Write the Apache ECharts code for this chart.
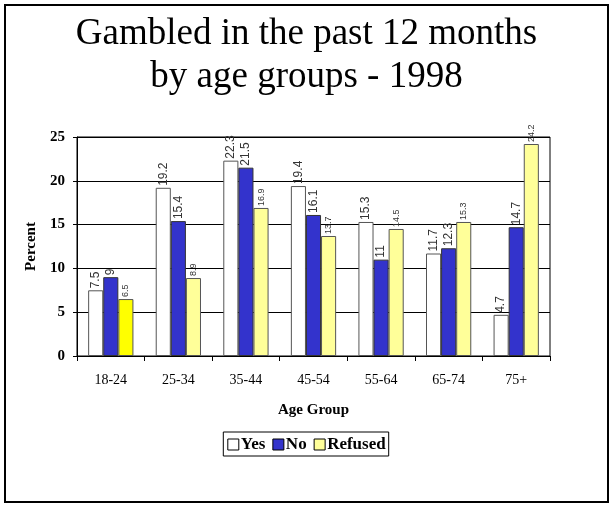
<!DOCTYPE html>
<html><head><meta charset="utf-8">
<script src="https://cdn.jsdelivr.net/npm/echarts@6/dist/echarts.min.js"></script>
<style>html,body{margin:0;padding:0;background:#fff}#c{width:613px;height:506px}</style>
</head><body><div id="c"></div>
<script>
var categories = ['18-24','25-34','35-44','45-54','55-64','65-74','75+'];
var yesValues = [7.5, 19.2, 22.3, 19.4, 15.3, 11.7, 4.7];
var noValues = [9, 15.4, 21.5, 16.1, 11, 12.3, 14.7];
var refusedValues = [6.5, 8.9, 16.9, 13.7, 14.5, 15.3, 24.2];
var seriesNames = ['Yes','No','Refused'];
var titleLines = ['Gambled in the past 12 months','by age groups - 1998'];

var serif = '"Liberation Serif","Times New Roman",serif';
var chart = echarts.init(document.getElementById('c'));
function lbl(size){
  return {show:true, position:'top', rotate:90, align:'left', verticalAlign:'middle', distance:2,
    fontFamily:'"Liberation Sans",Arial,sans-serif', fontSize:size, color:'#333'};
}
var refusedData = refusedValues.map(function(v,i){
  return i===0 ? {value:v, itemStyle:{color:'#ffff00'}} : v;
});
chart.setOption({
  animation:false,
  graphic:[{type:'rect', shape:{x:5,y:5,width:603,height:497}, style:{fill:'none', stroke:'#000', lineWidth:2}}],
  title:{text:titleLines.join('\n'), left:'center', top:8,
    textStyle:{fontFamily:serif, fontSize:37, fontWeight:'normal', color:'#000', lineHeight:43}},
  legend:{data:seriesNames, bottom:50, left:'center', itemWidth:11, itemHeight:11, itemGap:7,
    icon:'rect', itemStyle:{borderColor:'#000', borderWidth:1},
    borderColor:'#000', borderWidth:1, padding:[4,3,3,4],
    textStyle:{fontFamily:serif, fontSize:17, fontWeight:'bold', color:'#000', padding:[0,0,0,-3]}},
  grid:{left:77, right:63, top:137, bottom:150, show:true, borderColor:'#000', borderWidth:1},
  xAxis:{type:'category', data:categories, name:'Age Group', nameLocation:'middle', nameGap:47,
    nameTextStyle:{fontFamily:serif, fontSize:15, fontWeight:'bold', color:'#000'},
    axisLine:{lineStyle:{color:'#000'}}, axisTick:{show:true, length:5, lineStyle:{color:'#000'}},
    axisLabel:{fontFamily:serif, fontSize:14, color:'#000', margin:17}},
  yAxis:{type:'value', min:0, max:25, interval:5, name:'Percent', nameLocation:'middle', nameGap:38,
    nameTextStyle:{fontFamily:serif, fontSize:15, fontWeight:'bold', color:'#000'},
    axisLine:{show:true, lineStyle:{color:'#000'}}, axisTick:{show:true, length:4, lineStyle:{color:'#000'}},
    axisLabel:{fontFamily:serif, fontSize:15, fontWeight:'bold', color:'#000', margin:12},
    splitLine:{show:true, lineStyle:{color:'#000', width:1}}},
  series:[
    {name:'Yes', type:'bar', data:yesValues, barGap:'0%', barCategoryGap:'33%',
      itemStyle:{color:'#ffffff', borderColor:'#555', borderWidth:1}, label:lbl(12)},
    {name:'No', type:'bar', data:noValues,
      itemStyle:{color:'#3333cc', borderColor:'#333', borderWidth:1}, label:lbl(12)},
    {name:'Refused', type:'bar', data:refusedData,
      itemStyle:{color:'#ffff99', borderColor:'#555', borderWidth:1}, label:lbl(9)}
  ]
});
</script></body></html>
